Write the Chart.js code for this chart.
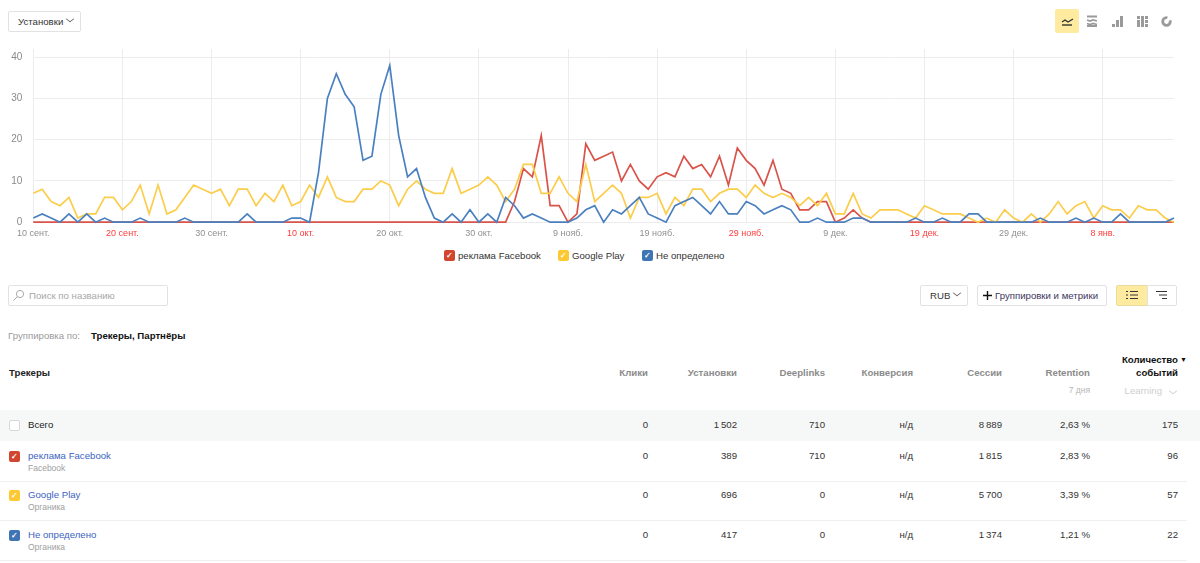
<!DOCTYPE html>
<html lang="ru">
<head>
<meta charset="utf-8">
<title>Установки</title>
<script src="https://cdn.jsdelivr.net/npm/chart.js@4"></script>
<style>
  html, body { margin: 0; padding: 0; background: #fff; }
  body { width: 1200px; height: 563px; overflow: hidden; position: relative; font: 9.65px "Liberation Sans", Arial, sans-serif; color: #222; }
  #chartBox { position: absolute; left: 0; top: 40px; width: 1200px; height: 205px; }
  .abs { position: absolute; white-space: nowrap; line-height: 12px; }
  .btn { position: absolute; box-sizing: border-box; height: 21px; background: #fff; border: 1px solid #e2e2e2; border-radius: 2px; line-height: 19px; color: #333; white-space: nowrap; }
  .chev { display: inline-block; width: 5px; height: 5px; border-right: 1px solid #666; border-bottom: 1px solid #666; transform: scaleY(.75) rotate(45deg); margin: 0 0 3px 4px; }
  .check { position: absolute; box-sizing: border-box; width: 11px; height: 11px; border-radius: 2px; color: #fff; font-size: 8px; font-weight: bold; line-height: 11px; text-align: center; }
  .legend { position: absolute; top: 250px; height: 12px; line-height: 12px; color: #333; white-space: nowrap; }
  .legend .check { left: 0; top: 0; }
  .legend span { margin-left: 14px; }
  .rowline { position: absolute; left: 0; width: 1187px; height: 1px; background: #f0f0f0; }
  .head { color: #8b8b8b; font-weight: bold; text-align: right; }
  .cell { color: #333; text-align: right; }
  .link { color: #3b64c2; }
  .sub { color: #a0a0a0; font-size: 8.5px; }
</style>
</head>
<body>
<div class="btn" style="left:8px;top:11px;width:73px;padding-left:9px">Установки<i class="chev"></i></div>

<svg class="abs" style="left:1055px;top:9px" width="125" height="25" viewBox="0 0 125 25">
  <rect width="24" height="24" rx="2" fill="#ffeba0"/>
  <path d="M7 13 l3 -2 3 2 5 -3" fill="none" stroke="#333" stroke-width="1.4"/>
  <path d="M7 16 h10" stroke="#333" stroke-width="1.4"/>
  <g fill="none" stroke="#9a9a9a" stroke-width="1.8">
    <path d="M32 7.5 h10 M32 11 l3 1 3 -1 4 1 M32 14.5 l3 1 3 -1 4 1 M32 17 h10"/>
  </g>
  <g fill="#9a9a9a">
    <rect x="57" y="15" width="3" height="3"/><rect x="61" y="11" width="3" height="7"/><rect x="65" y="7" width="3" height="11"/>
    <rect x="82" y="7" width="3" height="3"/><rect x="82" y="11" width="3" height="7"/><rect x="86" y="7" width="3" height="11"/>
    <rect x="90" y="7" width="3" height="3"/><rect x="90" y="11" width="3" height="3"/><rect x="90" y="15" width="3" height="3"/>
  </g>
  <circle cx="111.5" cy="12.5" r="3.8" fill="none" stroke="#9a9a9a" stroke-width="2.8"/>
  <path d="M111.5 12.5 L113 6 A6.5 6.5 0 0 1 117.5 10.5 Z" fill="#fff"/>
</svg>

<div id="chartBox"><canvas id="installsChart"></canvas></div>

<div id="legendBox"></div>

<div class="btn" style="left:8px;top:285px;width:160px;padding-left:20px;color:#a8a8a8">Поиск по названию</div>
<svg class="abs" style="left:12px;top:289px" width="13" height="13" viewBox="0 0 13 13">
  <circle cx="8" cy="5" r="3.6" fill="none" stroke="#aaa"/><path d="M5.4 7.6 L1.5 11.5" stroke="#aaa"/>
</svg>

<div class="btn" style="left:920px;top:285px;width:48px;padding-left:9px">RUB<i class="chev"></i></div>
<div class="btn" style="left:977px;top:285px;width:130px;padding-left:17px;color:#3d3560">Группировки и метрики</div>
<svg class="abs" style="left:982px;top:290px" width="11" height="11" viewBox="0 0 11 11"><path d="M5.5 1 V10 M1 5.5 H10" stroke="#111" stroke-width="1.4"/></svg>
<div class="btn" style="left:1116px;top:285px;width:32px;background:#ffeba0;border-color:#eadb9c;border-radius:2px 0 0 2px"></div>
<div class="btn" style="left:1147px;top:285px;width:30px;border-radius:0 2px 2px 0"></div>
<svg class="abs" style="left:1124px;top:289px" width="50" height="13" viewBox="0 0 50 13">
  <path d="M2 2.5 h2 M6 2.5 h8 M2 6 h2 M6 6 h8 M2 9.5 h2 M6 9.5 h8" stroke="#333" stroke-width="1.2"/>
  <path d="M32 2.5 h11 M35 6 h8 M38 9.5 h5" stroke="#333" stroke-width="1.2"/>
</svg>

<div class="abs" style="left:8px;top:330px;color:#9a9a9a">Группировка по:</div>
<div class="abs" style="left:91px;top:330px;font-weight:bold;color:#111">Трекеры, Партнёры</div>

<div class="abs" style="left:9px;top:367px;font-weight:bold;color:#222">Трекеры</div>
<div id="tableBox"></div>

<script>
const dayLabels = {
  0: "10 сент.", 10: "20 сент.", 20: "30 сент.", 30: "10 окт.", 40: "20 окт.", 50: "30 окт.", 60: "9 нояб.",
  70: "19 нояб.", 80: "29 нояб.", 90: "9 дек.", 100: "19 дек.", 110: "29 дек.", 120: "8 янв."
};
const weekendLabels = [10, 30, 80, 100, 120];
const yTicks = [0, 10, 20, 30, 40];

const facebook = [
  0,0,0,0,0,0,0,0,0,0, 0,0,0,0,0,0,0,0,0,0, 0,0,0,0,0,0,0,0,0,0,
  0,0,0,0,0,0,0,0,0,0, 0,0,0,0,0,0,0,0,0,0, 0,0,0,0,5,13,11,21,4,4,
  0,2,19,15,16,17,10,14,10,8, 11,12,11,16,13,14,11,16,9,18, 15,13,9,15,8,7,3,3,5,5,
  0,1,3,1,0,0,0,0,0,0, 0,0,0,0,0,0,0,0,0,0, 0,0,0,0,0,0,0,0,0,0,
  0,0,0,0,0,0,0,0,0
];
const googlePlay = [
  7,8,5,4,6,1,2,2,6,6, 3,5,9,2,9,2,3,6,9,8, 7,8,4,8,8,4,7,5,9,4,
  5,9,6,11,6,5,5,8,8,10, 9,4,8,10,8,7,7,13,7,8, 9,11,9,5,8,14,14,7,7,11,
  7,5,14,5,7,9,7,1,6,6, 7,2,6,4,8,8,5,7,8,8, 6,9,7,6,7,6,4,6,4,7,
  2,2,7,2,1,3,3,3,2,1, 4,3,2,2,2,1,0,1,0,3, 1,0,2,0,2,5,2,4,5,1,
  4,3,3,1,4,3,3,1,0
];
const undefinedSource = [
  1,2,1,0,2,0,2,0,1,0, 0,0,1,0,0,0,0,1,0,0, 0,0,0,0,2,0,0,0,0,1,
  1,0,12,30,36,31,28,15,16,31, 38,21,11,13,6,1,0,2,0,3, 0,2,0,6,4,1,2,1,0,0,
  0,1,3,4,0,3,2,4,6,2, 1,0,4,5,6,4,2,5,2,2, 5,4,2,3,4,3,0,0,1,0,
  0,0,1,1,0,0,0,0,0,1, 0,0,1,0,0,2,2,0,0,0, 0,0,0,1,0,0,0,1,0,1,
  0,0,2,0,0,0,0,0,1
];
const categories = facebook.map((_, i) => i);

const seriesNames = ["реклама Facebook", "Google Play", "Не определено"];
const seriesColors = ["#d9534a", "#fbcd4b", "#4a80bf"];
const checkColors = ["#d2452f", "#fdc933", "#3f74b5"];
const legendLefts = [444, 558, 642];

const columnRights = [648, 737, 825, 913, 1002, 1090, 1178];
const columnHeads = ["Клики", "Установки", "Deeplinks", "Конверсия", "Сессии", "Retention"];
const totalRow = ["0", "1\u2009502", "710", "н/д", "8\u2009889", "2,63 %", "175"];
const facebookRow = ["0", "389", "710", "н/д", "1\u2009815", "2,83 %", "96"];
const googleRow = ["0", "696", "0", "н/д", "5\u2009700", "3,39 %", "57"];
const undefinedRow = ["0", "417", "0", "н/д", "1\u2009374", "1,21 %", "22"];
const rowSubs = ["Facebook", "Органика", "Органика"];

function addDiv(parent, className, style, html) {
  const el = document.createElement("div");
  el.className = className;
  el.style.cssText = style;
  el.innerHTML = html;
  parent.appendChild(el);
  return el;
}

const legendBox = document.getElementById("legendBox");
seriesNames.forEach((name, i) => {
  addDiv(legendBox, "legend", `left:${legendLefts[i]}px`,
    `<div class="check" style="background:${checkColors[i]}">✓</div><span>${name}</span>`);
});

const tableBox = document.getElementById("tableBox");
columnHeads.forEach((name, i) => {
  addDiv(tableBox, "abs head", `right:${1200 - columnRights[i]}px;top:367px`, name);
});
addDiv(tableBox, "abs", "right:22px;top:354px;font-weight:bold;color:#111", "Количество");
addDiv(tableBox, "abs", "right:13px;top:354px;font-size:7px;color:#111", "▼");
addDiv(tableBox, "abs", "right:22px;top:367px;font-weight:bold;color:#111", "событий");
addDiv(tableBox, "abs", "right:110px;top:384px;font-size:8.5px;color:#b5b5b5", "7 дня");
addDiv(tableBox, "abs", "right:38px;top:385px;color:#cfcfcf", "Learning");
addDiv(tableBox, "abs", "left:1170px;top:385px", '<i class="chev" style="border-color:#cfcfcf;margin:0"></i>');

addDiv(tableBox, "abs", "left:0;top:410px;width:1200px;height:31px;background:#f6f8f7", "");
addDiv(tableBox, "check", "left:9px;top:420px;background:#fff;border:1px solid #d8d8d8", "");
addDiv(tableBox, "abs", "left:28px;top:419px;color:#222", "Всего");

const dataRows = [totalRow, facebookRow, googleRow, undefinedRow];
const rowTops = [419, 450, 489, 529];
dataRows.forEach((row, r) => {
  row.forEach((value, c) => {
    addDiv(tableBox, "abs cell", `right:${1200 - columnRights[c]}px;top:${rowTops[r]}px`, value);
  });
});
seriesNames.forEach((name, i) => {
  const top = rowTops[i + 1];
  addDiv(tableBox, "check", `left:9px;top:${top + 1}px;background:${checkColors[i]}`, "✓");
  addDiv(tableBox, "abs link", `left:28px;top:${top}px`, name);
  addDiv(tableBox, "abs sub", `left:28px;top:${top + 12}px`, rowSubs[i]);
  addDiv(tableBox, "rowline", `top:${top + 31}px`, "");
});

function makeDataset(index, values, order) {
  return {
    label: seriesNames[index],
    data: values,
    borderColor: seriesColors[index],
    backgroundColor: seriesColors[index],
    borderWidth: 1.7,
    pointRadius: 0,
    tension: 0,
    clip: false,
    order
  };
}

new Chart(document.getElementById("installsChart"), {
  type: "line",
  data: {
    labels: categories,
    datasets: [
      makeDataset(0, facebook, 3),
      makeDataset(1, googlePlay, 2),
      makeDataset(2, undefinedSource, 1)
    ]
  },
  options: {
    responsive: true,
    maintainAspectRatio: false,
    animation: false,
    layout: { padding: { top: 9, right: 26, left: 0, bottom: 0 } },
    plugins: { legend: { display: false }, tooltip: { enabled: false } },
    scales: {
      x: {
        type: "category",
        offset: false,
        border: { display: false },
        grid: {
          drawTicks: false,
          lineWidth: 1,
          color: ctx => (ctx.index in dayLabels ? "#ececec" : "transparent")
        },
        ticks: {
          autoSkip: false,
          maxRotation: 0,
          padding: 6,
          font: { family: "Liberation Sans", size: 9 },
          color: ctx => (weekendLabels.includes(ctx.index) ? "#ff3b3b" : "#8f8f8f"),
          callback: (value, index) => dayLabels[index] || ""
        }
      },
      y: {
        min: 0,
        max: 42,
        afterFit: scale => {
          scale.width = 33.3;
          scale.paddingTop = 0;
          scale.paddingBottom = 0;
        },
        afterBuildTicks: scale => { scale.ticks = yTicks.map(value => ({ value })); },
        border: { display: false },
        grid: { drawTicks: false, color: "#ececec", lineWidth: 1 },
        ticks: {
          padding: 11,
          font: { family: "Liberation Sans", size: 10 },
          color: "#8a8a8a"
        }
      }
    }
  }
});
</script>
</body>
</html>
